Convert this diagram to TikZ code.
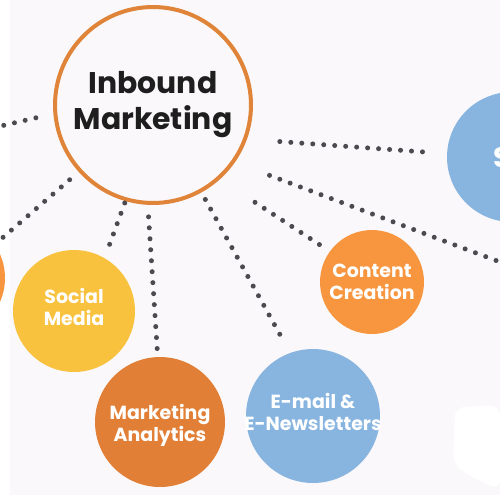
\documentclass[tikz,border=0pt]{standalone}
\usepackage{fontspec}
\setmainfont{Poppins}
\usepackage{tikz}
\definecolor{ring}{HTML}{E0843A}
\definecolor{sunny}{HTML}{F9C23E}
\definecolor{rust}{HTML}{E27F36}
\definecolor{tangerine}{HTML}{F8953F}
\definecolor{sky}{HTML}{88B4E0}
\definecolor{dotgrey}{HTML}{4A4A4F}
\definecolor{ink}{HTML}{1E1E1E}
\definecolor{paper}{HTML}{FAF8FA}

\begin{document}
\begin{tikzpicture}[x=0.02cm, y=-0.02cm,
  spoke/.style={circle, inner sep=0pt},
  spoketext/.style={text=white, align=center, inner sep=0pt,
    font=\fontsize{10.8}{12.5}\selectfont\bfseries},
  dotline/.style={draw=dotgrey, line width=0.1cm, line cap=round,
    dash pattern=on 0pt off 0.22cm}]
  \useasboundingbox (0,0) rectangle (500,495);
  \clip (0,0) rectangle (500,495);

  % Paper
  \fill[paper] (0,0) rectangle (500,495);
  \fill[white] (0,0) rectangle (10,495);
  \fill[white, rounded corners=6pt] (455,407) -- (500,405) -- (500,490)
    -- (480,481) -- (465,473) -- (453,464) -- cycle;

  % Hub
  \node[circle, draw=ring, line width=0.08cm, minimum size=3.92cm, text=ink, align=center,
    font=\fontsize{17}{20.5}\selectfont\bfseries] (hub) at (153,105) {Inbound\\Marketing};

  % Spokes
  \node[spoke, fill=sunny, minimum size=2.44cm,
    label={[spoketext, yshift=0.08cm]center:Social\\Media}] (social) at (74,311) {};
  \node[spoke, fill=rust, minimum size=2.6cm,
    label={[spoketext, yshift=-0.06cm]center:Marketing\\Analytics}] (analytics) at (160,422) {};
  \node[spoke, fill=sky, minimum size=2.68cm,
    label={[spoketext, yshift=0.08cm]center:E-mail \&\\E-Newsletters}] (email) at (313,416) {};
  \node[spoke, fill=tangerine, minimum size=2.08cm,
    label={[spoketext]center:Content\\Creation}] (content) at (372,282) {};
  \node[spoke, fill=sky, minimum size=2.6cm] (seo) at (512,157) {};
  \node[text=white, anchor=west, font=\fontsize{16}{18}\selectfont\bfseries] (seolbl) at (487,158) {S};
  \node[spoke, fill=tangerine, minimum size=2.4cm] (leftspoke) at (-55,278) {};
  \coordinate (lfar) at (-12,129);
  \coordinate (rfar) at (520,269.5);

  % Dotted links
  \foreach \from/\to/\gapa/\gapb in {hub.185/lfar/0.36cm/0cm, hub.-20/seo.177/0.66cm/0.38cm,
      hub.-35/rfar/0.74cm/0cm, hub.-48/content.144/0.84cm/0.2cm,
      hub.-61/email.110/0.16cm/0.28cm, hub.-93/analytics.92/0.24cm/0.06cm,
      hub.-106/social.60/0.04cm/0.28cm, hub.-138/leftspoke.34/0.24cm/0.16cm}{
    \draw[dotline, shorten <=\gapa, shorten >=\gapb] (\from) -- (\to);
  }
\end{tikzpicture}
\end{document}
